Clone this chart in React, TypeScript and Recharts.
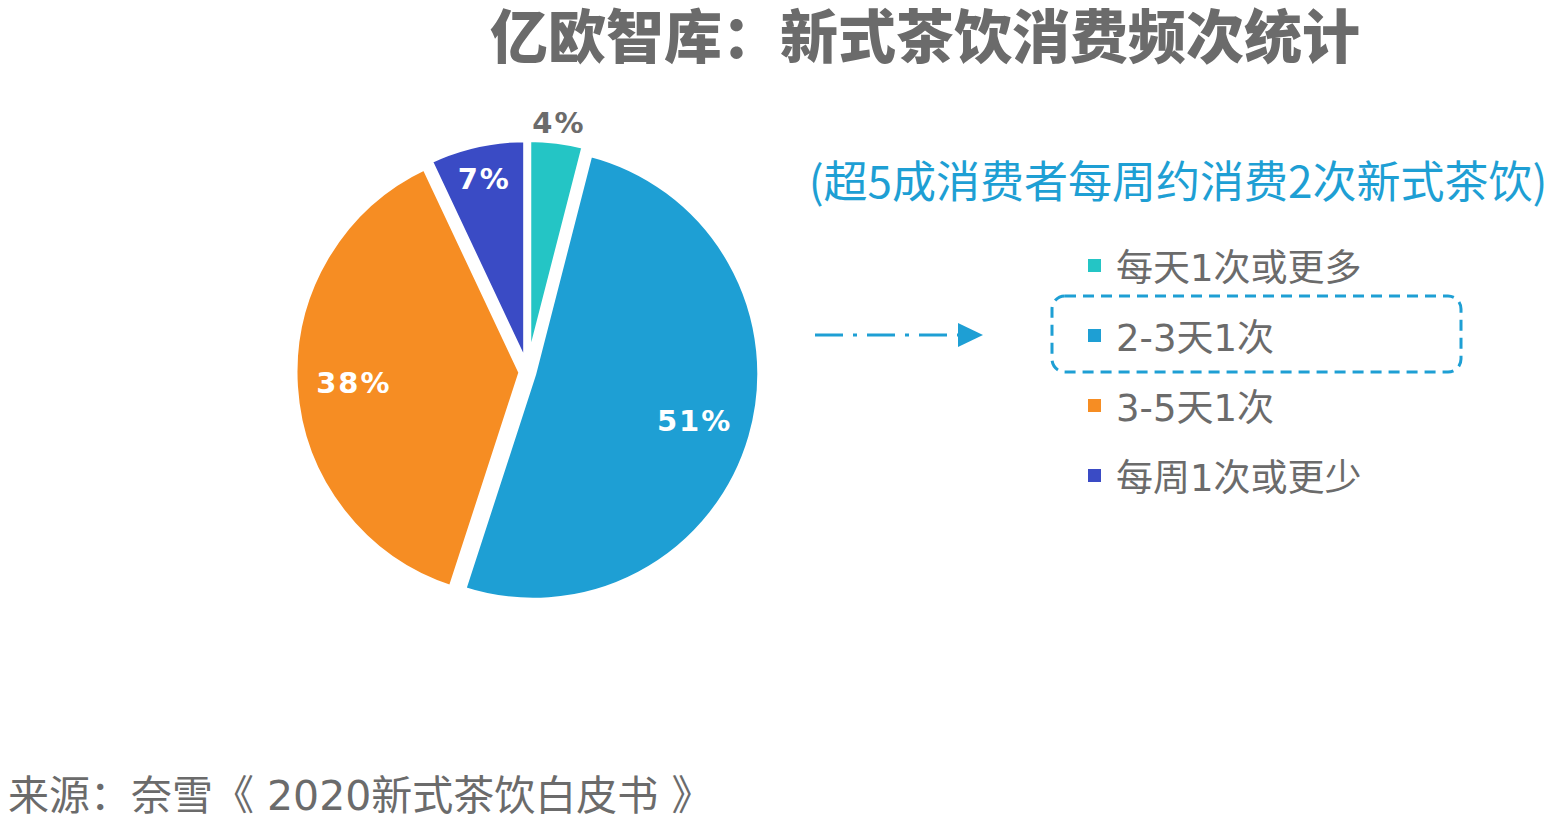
import React from "react";
import { PieChart, Pie, Cell } from "recharts";

const CATEGORIES = ["每天1次或更多", "2-3天1次", "3-5天1次", "每周1次或更少"];
const SHARES = [4, 51, 38, 7];
const SHARE_LABELS = ["4%", "51%", "38%", "7%"];
const COLORS = ["#24C5C5", "#1E9FD4", "#F68D23", "#3A4BC5"];
const LABEL_COLORS = ["#6B6B6B", "#FFFFFF", "#FFFFFF", "#FFFFFF"];
const LABEL_R = [245, 168, 168, 192];

const TITLE = "亿欧智库：新式茶饮消费频次统计";
const SUBTITLE = "(超5成消费者每周约消费2次新式茶饮)";
const SOURCE = "来源：奈雪《 2020新式茶饮白皮书 》";

const W = 1552;
const H = 830;
const CX = 522.5;
const CY = 367;
const R = 227;
const EXPLODE = 6;
const RAD = Math.PI / 180;

const data = CATEGORIES.map((name, i) => ({ name, value: SHARES[i] }));
const total = SHARES.reduce((a, b) => a + b, 0);

// mid angle of each slice, degrees clockwise from 12 o'clock
const midAngles = SHARES.map((v, i) => {
  const before = SHARES.slice(0, i).reduce((a, b) => a + b, 0);
  return ((before + v / 2) / total) * 360;
});

const FONT = '"DejaVu Sans", "Noto Sans CJK SC", sans-serif';

const makeLabel = (k: number) => (props: any) => {
  const { cx, cy, midAngle, index } = props;
  if (index !== k) return null;
  const r = LABEL_R[index];
  const x = cx + r * Math.cos(-midAngle * RAD);
  const y = cy + r * Math.sin(-midAngle * RAD);
  return (
    <text
      x={x}
      y={y}
      textAnchor="middle"
      dominantBaseline="central"
      fill={LABEL_COLORS[index]}
      fontFamily={FONT}
      fontWeight="bold"
      fontSize={29}
      letterSpacing={2}
    >
      {SHARE_LABELS[index]}
    </text>
  );
};

export default function App() {
  return (
    <div
      style={{
        position: "absolute",
        left: 0,
        top: 0,
        width: W,
        height: H,
        background: "#fff",
        fontFamily: FONT,
      }}
    >
      <div
        style={{
          position: "absolute",
          left: 425,
          top: 4,
          width: 1000,
          textAlign: "center",
          fontFamily: FONT,
          fontWeight: 900,
          fontSize: 58,
          lineHeight: "68px",
          color: "#6B6B6B",
        }}
      >
        {TITLE}
      </div>

      <PieChart width={W} height={H} style={{ position: "absolute", left: 0, top: 0 }}>
        {SHARES.map((_, k) => {
          const a = midAngles[k] * RAD;
          return (
            <Pie
              key={k}
              data={data}
              dataKey="value"
              nameKey="name"
              cx={CX + EXPLODE * Math.sin(a)}
              cy={CY - EXPLODE * Math.cos(a)}
              outerRadius={R}
              startAngle={90}
              endAngle={-270}
              isAnimationActive={false}
              labelLine={false}
              label={makeLabel(k)}
            >
              {data.map((d, i) => (
                <Cell
                  key={d.name}
                  fill={i === k ? COLORS[i] : "none"}
                  stroke={i === k ? "#ffffff" : "none"}
                  strokeWidth={i === k ? 6 : 0}
                />
              ))}
            </Pie>
          );
        })}
      </PieChart>

      <div
        style={{
          position: "absolute",
          left: 678,
          top: 153,
          width: 1000,
          textAlign: "center",
          fontSize: 44,
          lineHeight: "52px",
          color: "#1E9FD4",
          fontFamily: '"Noto Sans CJK SC", sans-serif',
        }}
      >
        {SUBTITLE}
      </div>

      <svg width={W} height={H} style={{ position: "absolute", left: 0, top: 0 }}>
        <line
          x1={815}
          y1={335}
          x2={958}
          y2={335}
          stroke="#1E9FD4"
          strokeWidth={3}
          strokeDasharray="28 10 4 10"
        />
        <polygon points="958,323 983,335 958,347" fill="#1E9FD4" />
        <rect
          x={1052}
          y={296}
          width={409}
          height={76}
          rx={13}
          ry={13}
          fill="none"
          stroke="#1E9FD4"
          strokeWidth={3}
          strokeDasharray="11 7"
        />
      </svg>

      {CATEGORIES.map((c, i) => (
        <div
          key={c}
          style={{
            position: "absolute",
            left: 1088,
            top: 265 + i * 70 - 22,
            height: 44,
            display: "flex",
            alignItems: "center",
            fontSize: 37,
            color: "#6B6B6B",
            whiteSpace: "nowrap",
          }}
        >
          <span
            style={{
              display: "inline-block",
              width: 13,
              height: 13,
              background: COLORS[i],
              marginRight: 15,
            }}
          />
          {c}
        </div>
      ))}

      <div
        style={{
          position: "absolute",
          left: 8,
          top: 770,
          fontSize: 41,
          lineHeight: "52px",
          color: "#6B6B6B",
          whiteSpace: "nowrap",
        }}
      >
        {SOURCE}
      </div>
    </div>
  );
}
